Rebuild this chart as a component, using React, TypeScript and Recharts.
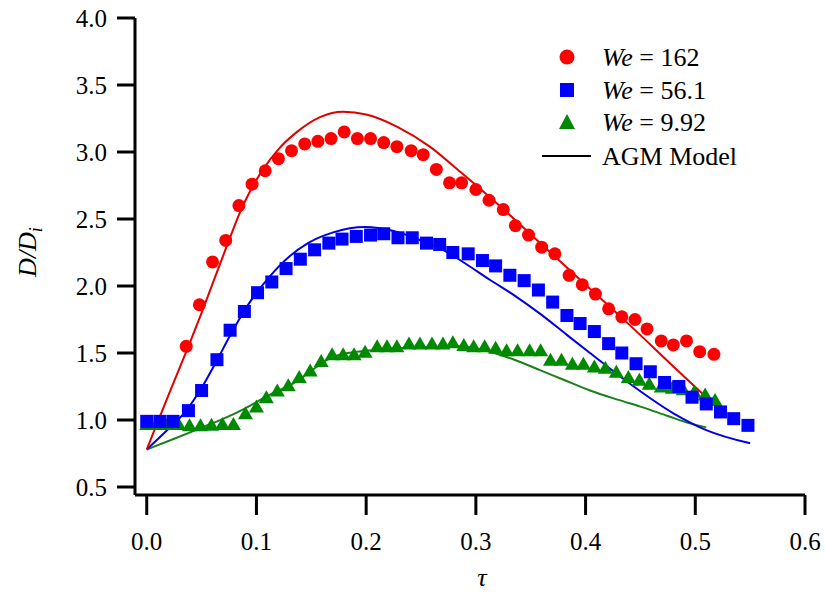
import React from 'react';
import { ComposedChart, Scatter, Line, XAxis, YAxis, Legend } from 'recharts';

const FONT = '"Liberation Serif", "Times New Roman", serif';
const RED = '#ff0000';
const BLUE = '#0000ff';
const GREEN = '#008a00';
const RED_LINE = '#e00000';
const BLUE_LINE = '#0000e0';
const GREEN_LINE = '#1a801a';

// ---- data: We = 162 (circles)
const redTau = [0.036, 0.048, 0.060, 0.072, 0.084, 0.096, 0.108, 0.120, 0.132, 0.144, 0.156, 0.168, 0.180, 0.192, 0.204, 0.216, 0.228, 0.241, 0.252, 0.264, 0.276, 0.287, 0.300, 0.312, 0.325, 0.336, 0.348, 0.360, 0.372, 0.385, 0.397, 0.409, 0.421, 0.433, 0.445, 0.456, 0.469, 0.480, 0.492, 0.504, 0.517];
const redD = [1.55, 1.86, 2.18, 2.34, 2.60, 2.76, 2.86, 2.95, 3.01, 3.06, 3.08, 3.10, 3.15, 3.10, 3.10, 3.07, 3.04, 3.01, 2.98, 2.87, 2.77, 2.77, 2.72, 2.64, 2.57, 2.45, 2.38, 2.29, 2.24, 2.08, 2.01, 1.94, 1.83, 1.77, 1.75, 1.68, 1.59, 1.56, 1.59, 1.51, 1.49];

// ---- data: We = 56.1 (squares)
const blueTau = [0.000, 0.012, 0.024, 0.038, 0.050, 0.064, 0.076, 0.089, 0.101, 0.114, 0.127, 0.140, 0.153, 0.166, 0.178, 0.191, 0.204, 0.216, 0.229, 0.242, 0.255, 0.267, 0.279, 0.293, 0.306, 0.318, 0.331, 0.344, 0.357, 0.370, 0.383, 0.395, 0.408, 0.421, 0.433, 0.446, 0.459, 0.472, 0.485, 0.497, 0.510, 0.523, 0.535, 0.548];
const blueD = [0.99, 0.99, 0.99, 1.07, 1.22, 1.45, 1.67, 1.81, 1.95, 2.03, 2.13, 2.20, 2.27, 2.32, 2.35, 2.37, 2.38, 2.39, 2.36, 2.36, 2.32, 2.31, 2.25, 2.24, 2.19, 2.15, 2.08, 2.04, 1.97, 1.88, 1.78, 1.72, 1.66, 1.57, 1.50, 1.42, 1.36, 1.28, 1.25, 1.17, 1.12, 1.06, 1.01, 0.96];

// ---- data: We = 9.92 (triangles)
const greenTau = [0.000, 0.009, 0.019, 0.029, 0.039, 0.049, 0.059, 0.069, 0.079, 0.090, 0.100, 0.109, 0.119, 0.129, 0.139, 0.149, 0.159, 0.169, 0.179, 0.189, 0.199, 0.210, 0.219, 0.228, 0.239, 0.249, 0.260, 0.270, 0.279, 0.289, 0.298, 0.308, 0.318, 0.328, 0.338, 0.349, 0.359, 0.368, 0.378, 0.388, 0.398, 0.408, 0.418, 0.428, 0.439, 0.449, 0.458, 0.469, 0.479, 0.489, 0.499, 0.509, 0.518];
const greenD = [0.97, 0.97, 0.97, 0.97, 0.96, 0.96, 0.965, 0.97, 0.97, 1.05, 1.10, 1.17, 1.22, 1.26, 1.32, 1.37, 1.44, 1.49, 1.49, 1.49, 1.51, 1.55, 1.55, 1.55, 1.57, 1.57, 1.57, 1.57, 1.58, 1.56, 1.55, 1.55, 1.54, 1.52, 1.52, 1.52, 1.52, 1.45, 1.45, 1.42, 1.42, 1.40, 1.39, 1.36, 1.32, 1.30, 1.27, 1.25, 1.24, 1.23, 1.21, 1.19, 1.15];

// ---- AGM model curves
const redModelTau = [0, 0.02, 0.038, 0.05, 0.062, 0.074, 0.085, 0.095, 0.106, 0.12, 0.137, 0.158, 0.179, 0.2, 0.228, 0.258, 0.286, 0.32, 0.36, 0.4, 0.44, 0.48, 0.51];
const redModelD = [0.78, 1.19, 1.55, 1.80, 2.06, 2.32, 2.55, 2.72, 2.87, 3.02, 3.15, 3.26, 3.30, 3.28, 3.19, 3.04, 2.85, 2.61, 2.31, 2.01, 1.71, 1.40, 1.17];

const blueModelTau = [0, 0.018, 0.036, 0.05, 0.063, 0.076, 0.09, 0.112, 0.13, 0.147, 0.17, 0.199, 0.225, 0.25, 0.27, 0.29, 0.313, 0.336, 0.359, 0.383, 0.404, 0.438, 0.48, 0.51, 0.55];
const blueModelD = [0.78, 0.92, 1.07, 1.24, 1.43, 1.63, 1.83, 2.07, 2.22, 2.32, 2.40, 2.44, 2.41, 2.34, 2.27, 2.17, 2.045, 1.925, 1.79, 1.635, 1.50, 1.285, 1.05, 0.925, 0.826];

const greenModelTau = [0, 0.025, 0.049, 0.07, 0.088, 0.11, 0.137, 0.152, 0.167, 0.183, 0.198, 0.228, 0.267, 0.286, 0.3, 0.313, 0.335, 0.359, 0.38, 0.404, 0.43, 0.45, 0.475, 0.495, 0.51];
const greenModelD = [0.78, 0.86, 0.94, 1.01, 1.08, 1.18, 1.29, 1.38, 1.46, 1.50, 1.515, 1.535, 1.545, 1.55, 1.535, 1.51, 1.45, 1.37, 1.30, 1.22, 1.15, 1.10, 1.03, 0.975, 0.945];

const xTicks = [0, 0.1, 0.2, 0.3, 0.4, 0.5, 0.6];
const yTicks = [0.5, 1.0, 1.5, 2.0, 2.5, 3.0, 3.5, 4.0];

const seriesNames = ['162', '56.1', '9.92'];
const modelName = 'AGM Model';

const zip = (xs: number[], ys: number[]) => xs.map((x, i) => ({ x, y: ys[i] }));

const redPts = zip(redTau, redD);
const bluePts = zip(blueTau, blueD);
const greenPts = zip(greenTau, greenD);
const redModel = zip(redModelTau, redModelD);
const blueModel = zip(blueModelTau, blueModelD);
const greenModel = zip(greenModelTau, greenModelD);

const CircleShape = (p: any) => <circle cx={p.cx} cy={p.cy} r={6.5} fill={RED} />;
const SquareShape = (p: any) => <rect x={p.cx - 6.5} y={p.cy - 6.5} width={13} height={13} fill={BLUE} />;
const TriShape = (p: any) => (
  <polygon points={`${p.cx},${p.cy - 7} ${p.cx + 7.5},${p.cy + 6} ${p.cx - 7.5},${p.cy + 6}`} fill={GREEN} />
);

const LegendBox = () => {
  const mx = 37;
  const tx = 72;
  const rows = [21, 54, 86, 120];
  const fs = 26;
  return (
    <svg width={260} height={140} style={{ overflow: 'visible' }}>
      <circle cx={mx} cy={rows[0]} r={7.5} fill={RED} />
      <rect x={mx - 7} y={rows[1] - 7} width={14} height={14} fill={BLUE} />
      <polygon points={`${mx},${rows[2] - 8} ${mx + 8},${rows[2] + 7} ${mx - 8},${rows[2] + 7}`} fill={GREEN} />
      <line x1={12} x2={61} y1={rows[3]} y2={rows[3]} stroke="#000" strokeWidth={2} />
      {seriesNames.map((n, i) => (
        <text key={n} x={tx} y={rows[i] + 9} fontFamily={FONT} fontSize={fs} fill="#000">
          <tspan fontStyle="italic">We</tspan>
          <tspan> = {n}</tspan>
        </text>
      ))}
      <text x={tx} y={rows[3] + 9} fontFamily={FONT} fontSize={fs} fill="#000">{modelName}</text>
    </svg>
  );
};

const YLabel = () => (
  <text transform="translate(36,252) rotate(-90)" textAnchor="middle" fontFamily={FONT} fontSize={26} fontStyle="italic" fill="#000">
    D/D<tspan fontSize={18} dy={6}>i</tspan>
  </text>
);

const XLabel = () => (
  <text x={482} y={586} textAnchor="middle" fontFamily={FONT} fontSize={26} fontStyle="italic" fill="#000">τ</text>
);

const tickStyle = { fill: '#000', fontSize: 25, fontFamily: FONT };
const axisStroke = { stroke: '#000', strokeWidth: 3 };

export default function App() {
  return (
    <div style={{ position: 'absolute', left: 0, top: 0, width: 825, height: 592, background: '#fff' }}>
      <ComposedChart width={825} height={592} margin={{ top: 18, right: 20, left: 65, bottom: 0 }}>
        <XAxis
          type="number"
          dataKey="x"
          domain={[-0.0107, 0.6]}
          allowDataOverflow
          ticks={xTicks}
          tickFormatter={(v: number) => v.toFixed(1)}
          tick={tickStyle}
          tickSize={20}
          tickMargin={17}
          height={97}
          axisLine={axisStroke}
          tickLine={axisStroke}
          label={{ content: () => <XLabel /> }}
        />
        <YAxis
          type="number"
          dataKey="y"
          domain={[0.4403, 4.0]}
          allowDataOverflow
          ticks={yTicks}
          tickFormatter={(v: number) => v.toFixed(1)}
          tick={tickStyle}
          tickSize={18}
          tickMargin={10}
          width={70}
          axisLine={axisStroke}
          tickLine={axisStroke}
          label={{ content: () => <YLabel /> }}
        />
        <Legend
          layout="horizontal"
          verticalAlign="middle"
          align="center"
          wrapperStyle={{ left: 530, top: 36, width: 260, height: 140 }}
          content={() => <LegendBox />}
        />
        <Scatter name="We = 9.92" data={greenPts} shape={TriShape} isAnimationActive={false} />
        <Scatter name="We = 56.1" data={bluePts} shape={SquareShape} isAnimationActive={false} />
        <Scatter name="We = 162" data={redPts} shape={CircleShape} isAnimationActive={false} />
        <Line data={greenModel} dataKey="y" type="monotone" stroke={GREEN_LINE} strokeWidth={2} dot={false} activeDot={false} isAnimationActive={false} legendType="none" />
        <Line data={blueModel} dataKey="y" type="monotone" stroke={BLUE_LINE} strokeWidth={2} dot={false} activeDot={false} isAnimationActive={false} legendType="none" />
        <Line data={redModel} dataKey="y" type="monotone" stroke={RED_LINE} strokeWidth={2} dot={false} activeDot={false} isAnimationActive={false} legendType="none" />
      </ComposedChart>
    </div>
  );
}
